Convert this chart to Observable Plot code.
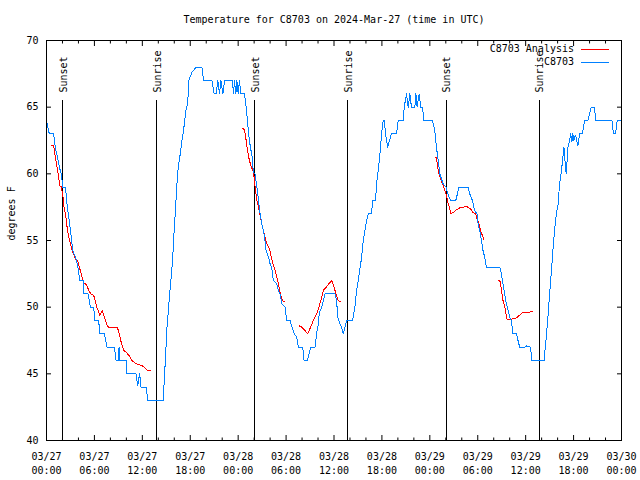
<!DOCTYPE html>
<html><head><meta charset="utf-8">
<script src="https://cdn.jsdelivr.net/npm/d3@7"></script>
<script src="https://cdn.jsdelivr.net/npm/@observablehq/plot@0.6"></script>
<style>body{margin:0;background:#fff}</style>
</head><body><div id="chart"></div>
<script>
const titleText = "Temperature for C8703 on 2024-Mar-27 (time in UTC)";
const yLabel = "degrees F";
const startMs = Date.UTC(2024, 2, 27, 0, 0);

// Observations (hours since 03/27 00:00 UTC, deg F)
const obsHours = [0,0.35,0.9,1.1,1.45,1.7,1.85,2.05,2.4,2.5,2.79,3,3.29,3.62,3.91,4.16,4.59,4.66,5.21,5.5,5.91,6.04,6.54,6.66,7.25,7.59,8.5,8.71,8.96,9.09,9.16,9.96,10.04,11.21,11.41,11.66,11.84,12.5,12.66,14.59,14.75,14.88,15.09,15.29,15.5,15.79,15.91,16.12,16.33,16.5,16.75,16.96,17.16,17.46,17.7,17.8,18.2,18.75,19.46,19.66,20.71,21,21.25,21.46,21.66,21.84,22.09,22.29,23.29,23.41,23.54,23.71,23.84,24,24.16,24.34,24.75,24.9,25.16,25.4,25.75,25.9,26.1,26.3,26.55,26.75,26.96,27.16,27.3,27.5,27.8,28,28.2,28.4,28.84,29.04,29.25,29.46,29.87,30.08,30.5,30.7,31.04,31.34,31.54,32.08,32.25,32.66,32.87,33.08,33.62,33.84,34.04,34.16,34.46,34.66,34.87,36.12,36.33,36.46,36.75,37,37.16,37.37,37.58,38.33,38.62,38.83,39.16,39.46,39.66,39.87,40.08,40.29,40.71,40.83,41.2,41.33,41.54,41.75,41.96,42.16,42.29,42.46,42.71,42.9,43.2,43.84,44.04,44.66,44.79,45.08,45.29,45.5,45.7,46.12,46.25,46.41,46.66,46.87,47.08,47.25,48.33,48.62,48.83,49.04,49.25,49.66,50.04,50.25,50.6,51.25,51.66,52.8,53,53.33,53.6,53.9,54.04,54.25,54.46,54.66,54.87,55.08,56.75,56.96,57.16,57.37,57.58,57.8,58,58.2,58.41,58.84,59.04,59.25,59.87,60.04,60.62,60.75,62.3,62.46,62.58,62.79,63,63.2,63.41,63.62,63.84,64.04,64.25,64.46,64.66,64.79,64.96,65.08,65.3,65.5,65.62,65.8,65.9,66.04,66.2,66.33,66.54,66.75,67.08,67.25,67.38,67.8,68,68.2,68.6,68.8,70.8,71,71.25,71.46,72];
const obsTemps = [64,63,63,62,61,60.3,60,59,59,58,56.75,55.75,54.25,53.75,53.1,52,52,51,51,50,50,49,49,48,48,47,47,46,46,47,46,46,45,45,44.1,45,44,44,43,43,44.5,46,48.5,50,51.5,53.5,55,57,59.25,60.5,61.5,62.5,63.25,64.75,65.4,67,67.6,68,68,67,67,66,66,67,66,67,66,67,67,66,67,66,67,66,67,66,66,65.6,64,62.5,61.25,60.1,60,59.2,58,57,56.25,55.75,55.25,54.25,53.75,53.25,53,52,51.75,51.25,51,50.25,50,49,49,48.6,48,47.75,47,47,46,46,46.5,47,47,48.1,48.75,49.6,50,50.5,51,51,50.5,49.25,48.75,48.4,48,48.5,49,49,50,51.25,52.5,53.75,55,55.75,56.5,57,57,58,58,59.25,60.25,61.5,63,64,64,63,62,62.4,63,63,64,64,65,66,65,66,65,65,66,65,66,65,65,64,64,63.25,62,61,60,59.25,59,58.5,58,58,59,59,58.5,58,57.25,57,56.25,55.75,55,54.25,53.75,53,53,52.5,51.75,51,50.25,49.75,49.25,49,48,48,47.5,47,47,47.1,47,46,46,47,47.75,49.25,51,52.5,54.25,55.75,57,57.6,59.25,60.1,61.25,62,60.75,60,62,62.5,63,62.4,63,62.5,62.9,62.7,62.1,63,63,63.5,64,64,64.5,65,65,64,64,63,63,64,64];

// Analysis (segments)
const anaSegment = [1,1,1,1,1,1,1,1,1,1,1,1,1,1,1,1,1,1,1,1,1,1,1,1,1,1,1,1,1,1,1,1,1,1,1,1,1,1,1,1,1,1,1,1,
  2,2,2,2,2,2,2,2,2,2,2,2,2,2,2,2,2,2,2,2,2,2,2,2,2,2,
  3,3,3,3,3,3,3,3,3,3,3,3,3,3,3,3,3,3,
  4,4,4,4,4,4,4,4,4,4,4,4,4,4,4,4,4,4,4,4,4,4,4,4,4,
  5,5,5,5,5,5,5,5,5,5,5,5,5];
const anaHours = [0.625,0.9,1.04,1.25,1.46,1.67,1.85,2.08,2.2,2.375,2.58,2.79,3,3.2,3.4,3.6,3.9,4.16,4.46,4.67,5,5.3,5.6,5.9,6.1,6.3,6.67,6.96,7.25,7.6,7.8,8.9,9.1,9.4,9.67,10,10.3,10.7,11.1,11.5,12,12.4,12.7,13,
  24.59,24.8,25,25.16,25.375,25.59,25.84,26,26.125,26.34,26.54,26.75,26.96,27.16,27.375,27.59,27.91,28.09,28.34,28.625,28.84,29.04,29.25,29.46,29.66,29.79,
  31.625,31.96,32.375,32.71,33,33.34,33.625,33.91,34.16,34.46,34.66,35.09,35.41,35.71,36,36.25,36.54,36.84,
  48.71,48.84,48.96,49.16,49.46,49.75,50.09,50.29,50.5,50.625,50.91,51.34,51.75,52.16,52.59,52.91,53.21,53.41,53.75,53.91,54.16,54.34,54.5,54.66,54.79,
  56.66,56.84,56.96,57.16,57.375,57.5,57.66,58.21,58.84,59.25,59.66,60.29,60.84];
const anaTemps = [62.1,62.1,61.5,60.75,60,59.1,59.05,58.25,57.5,57,56,55.25,54.75,54.25,54,53.6,53.5,52.9,52.25,51.8,51.7,51.25,50.95,50.9,50.5,50,49.4,49.75,49.25,48.6,48.5,48.45,48,47.25,46.75,46.6,46.4,46,45.8,45.7,45.6,45.4,45.25,45.25,
  63.4,63.3,62.5,61.75,61.1,60.6,60.25,59.75,59,58,57.5,56.9,56.25,55.75,55.25,54.75,54.4,53.9,53.25,52.75,52.25,51.75,51.1,50.6,50.45,50.4,
  48.6,48.5,48.25,48,48.4,48.9,49.25,49.6,50.1,50.75,51.25,51.55,51.8,52,51.5,51,50.5,50.4,
  61.25,61.2,60.5,60,59.4,59,58.4,57.75,57.4,57,57.1,57.3,57.45,57.5,57.55,57.45,57.3,57.1,57,56.6,56.25,55.75,55.5,55.25,55.05,
  52,51.9,51.25,50.5,50.1,49.6,49.1,49.1,49.2,49.4,49.6,49.6,49.7];

// Sun events
const eventHours = [2.03, 13.75, 26.03, 37.7, 50.03, 61.68];
const eventLabels = ["Sunset", "Sunrise", "Sunset", "Sunrise", "Sunset", "Sunrise"];

// Ticks
const majorTickHours = [0,6,12,18,24,30,36,42,48,54,60,66,72];
const minorTickHours = d3.range(0, 73, 2).filter(h => h % 6 !== 0);
const yTicks = [40,45,50,55,60,65,70];

const legendNames = ["C8703 Analysis", "C8703"];
const legendColors = ["#ff0000", "#0080ff"];

const toDate = h => new Date(startMs + h * 3600e3);
const obs = obsHours.map((h, i) => ({t: toDate(h), v: obsTemps[i]}));
const ana = anaHours.map((h, i) => ({t: toDate(h), v: anaTemps[i], seg: anaSegment[i]}));
const events = eventHours.map((h, i) => ({t: toDate(h), label: eventLabels[i]}));
const majors = majorTickHours.map(toDate);
const minors = minorTickHours.map(toDate);
const fmtD = d3.utcFormat("%m/%d"), fmtT = d3.utcFormat("%H:%M");

const W = 640, H = 480, mL = 46, mR = 19, mT = 40, mB = 40;
const font = "'DejaVu Sans Mono', 'Liberation Mono', monospace";

const plot = Plot.plot({
  width: W, height: H, marginLeft: mL, marginRight: mR, marginTop: mT, marginBottom: mB,
  style: {fontFamily: font, fontSize: "10px", background: "white", color: "black", overflow: "visible"},
  x: {type: "utc", domain: [toDate(0), toDate(72)]},
  y: {domain: [40, 70]},
  marks: [
    Plot.ruleX(events, {x: "t", y1: 40, y2: 65.5, stroke: "black", strokeWidth: 1, shapeRendering: "crispEdges"}),
    Plot.text(events, {x: "t", text: "label", frameAnchor: "top", lineAnchor: "middle", rotate: -90, textAnchor: "start", dy: 52, dx: 1, fill: "black", fontSize: 10}),
    Plot.line(ana, {x: "t", y: "v", z: "seg", stroke: legendColors[0], strokeWidth: 1, shapeRendering: "crispEdges"}),
    Plot.line(obs, {x: "t", y: "v", stroke: legendColors[1], strokeWidth: 1, shapeRendering: "crispEdges"}),
    Plot.frame({stroke: "black", strokeWidth: 1, shapeRendering: "crispEdges"}),
    Plot.axisX(majors, {anchor: "bottom", tickSize: -5, text: null, label: null}),
    Plot.axisX(majors, {anchor: "top", tickSize: -5, text: null, label: null}),
    Plot.axisX(minors, {anchor: "bottom", tickSize: -2.5, text: null, label: null}),
    Plot.axisX(minors, {anchor: "top", tickSize: -2.5, text: null, label: null}),
    Plot.axisX(majors, {anchor: "bottom", tickSize: 0, tickPadding: 10, label: null, lineHeight: 1.4,
      tickFormat: d => fmtD(d) + "\n" + fmtT(d)}),
    Plot.axisY(yTicks, {anchor: "left", tickSize: -5, text: null, label: null}),
    Plot.axisY(yTicks, {anchor: "right", tickSize: -5, text: null, label: null}),
    Plot.axisY(yTicks, {anchor: "left", tickSize: 0, tickPadding: 8, label: null}),
    Plot.text([titleText], {frameAnchor: "top", lineAnchor: "middle", dy: -21, fill: "black", fontSize: 10}),
    Plot.text([yLabel], {frameAnchor: "left", rotate: -90, dx: -35, fill: "black", fontSize: 10})
  ]
});

// Legend (top-right inside plot)
const svg = d3.select(plot);
legendNames.forEach((name, i) => {
  const y = 49 + i * 13;
  svg.append("text").attr("x", 574).attr("y", y).attr("dy", "0.32em")
    .attr("text-anchor", "end").attr("font-family", font).attr("font-size", 10).attr("fill", "black").text(name);
  svg.append("line").attr("x1", 581).attr("x2", 609).attr("y1", y).attr("y2", y)
    .attr("stroke", legendColors[i]).attr("stroke-width", 1).attr("shape-rendering", "crispEdges");
});

document.getElementById("chart").appendChild(plot);
</script>
</body></html>
